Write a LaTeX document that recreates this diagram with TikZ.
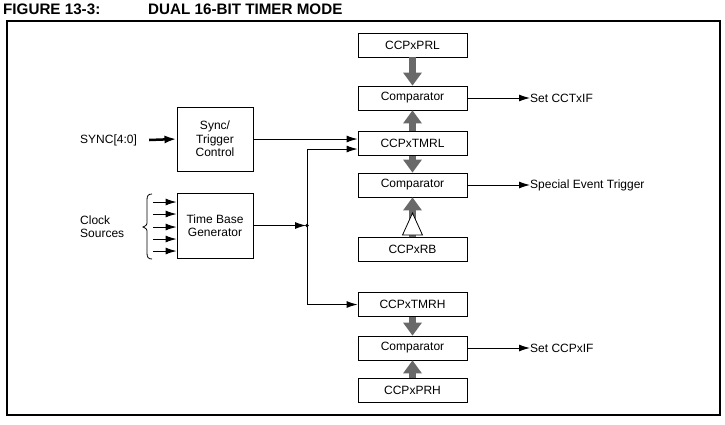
\documentclass[tikz,border=0pt]{standalone}
\usepackage{fontspec}
\setmainfont{Liberation Sans}
\usetikzlibrary{arrows.meta}
\definecolor{arrgray}{RGB}{105,105,105}
\begin{document}
\begin{tikzpicture}[x=1pt,y=-1pt,
  txt/.style={font=\fontsize{12}{13.5}\selectfont},
  box/.style={draw, line width=0.9pt, inner sep=0pt, txt, align=center},
  regbox/.style={box, minimum width=109pt, minimum height=24pt},
  lbl/.style={inner sep=0pt, txt, align=left},
  arr/.style={line width=0.9pt, -{Latex[length=11pt,width=7pt]}},
  garr/.style={draw=arrgray, line width=7pt, -{Triangle[length=13pt 0 0, width=19pt 0 0, line width=0pt, fill=arrgray]}},
  title/.style={inner sep=0pt, anchor=base west, font=\fontsize{15.2}{17}\selectfont\bfseries}
]
\useasboundingbox (0,0) rectangle (725,424);
% title and frame
\node[title] (t1) at (3,14) {FIGURE 13-3:};
\node[title] (t2) at (148,14) {DUAL 16-BIT TIMER MODE};
\draw[line width=1.5pt] (7,21) rectangle (720,415);

% register column
\node[regbox] (prl)  at (412.5,45)    {CCPxPRL};
\node[regbox] (c1)   at (412.5,98)    {Comparator};
\node[regbox] (tmrl) at (412.5,143.5) {CCPxTMRL};
\node[regbox] (c2)   at (412.5,185)   {Comparator};
\node[regbox] (rb)   at (412.5,249.5) {CCPxRB};
\node[regbox] (tmrh) at (412.5,304.5) {CCPxTMRH};
\node[regbox] (c3)   at (412.5,348)   {Comparator};
\node[regbox] (prh)  at (412.5,390)   {CCPxPRH};

% left blocks
\node[box, minimum width=76pt, minimum height=64pt] (sync) at (215,139) {Sync/\\Trigger\\Control};
\node[box, minimum width=76pt, minimum height=65pt] (tbg) at (215,225.5) {Time Base\\Generator};
\node[lbl, anchor=west] (synclbl) at (80,140) {SYNC[4:0]};
\node[lbl, anchor=west] (clk) at (80,226.5) {Clock\\Sources};

% outputs
\node[lbl, anchor=west] (o1) at (530,98) {Set CCTxIF};
\node[lbl, anchor=west] (o2) at (530,185) {Special Event Trigger};
\node[lbl, anchor=west] (o3) at (530,348) {Set CCPxIF};
\draw[arr] (c1.east) -- (o1.west);
\draw[arr] (c2.east) -- (o2.west);
\draw[arr] (c3.east) -- (o3.west);

% gray arrows
\draw[garr] (prl.south) -- (c1.north);
\draw[garr] (tmrl.north) -- (c1.south);
\draw[garr] (tmrl.south) -- (c2.north);
\draw[garr] (rb.north) -- (c2.south);
\draw[garr] (tmrh.south) -- (c3.north);
\draw[garr] (prh.north) -- (c3.south);
\draw[fill=white, line width=0.8pt] (rb.north) ++(0,-24) -- ++(-10,22) -- ++(20,0) -- cycle;

% SYNC input
\draw[line width=2.5pt, -{Latex[length=12pt,width=8pt]}] ([xshift=12pt]synclbl.east) -- (sync.west);

% clock sources brace and arrows
\draw[line width=0.8pt] (152,194) .. controls (148,194) and (147,196) .. (147,200) -- (147,221) .. controls (147,225) .. (143,227) .. controls (147,229) .. (147,233) -- (147,253) .. controls (147,257) and (148,259) .. (152,259);
\foreach \yy in {202,214,227,239,251} {
  \coordinate (cs\yy) at (153,\yy);
  \draw[arr] (cs\yy) -- (tbg.west |- cs\yy);
}

% timer connections
\coordinate (j) at (307,225.5);
\draw[arr] (sync.east) -- (sync.east -| tmrl.west);
\draw[arr] (tbg.east) -- ([xshift=-1pt]j);
\fill (j) circle (1.8pt);
\draw[arr] (j) |- ([yshift=-5.5pt]tmrl.west);
\draw[arr] (j) |- (tmrh.west);
\end{tikzpicture}
\end{document}
